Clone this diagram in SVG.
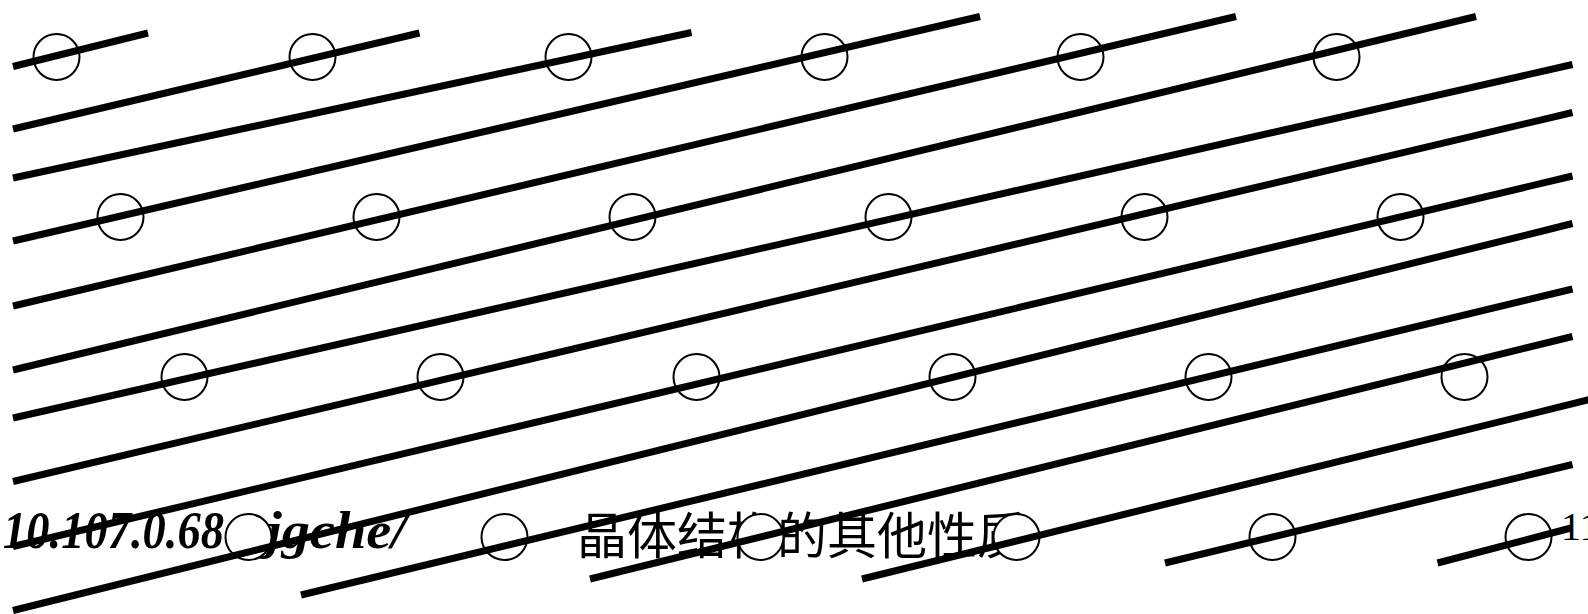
<svg xmlns="http://www.w3.org/2000/svg" width="1588" height="614" viewBox="0 0 1588 614">
<style>
.c{fill:#fff;stroke:#000;stroke-width:2}
.l{stroke:#000;stroke-width:7;stroke-linecap:butt}
.t1{font-family:"Liberation Serif",serif;font-weight:bold;font-style:italic;font-size:53px}
.t2{font-family:"Liberation Sans","Noto Sans CJK SC",sans-serif;font-size:50px}
.t3{font-family:"Liberation Serif",serif;font-size:40px}
</style>
<rect width="1588" height="614" fill="#fff"/>
<g id="texts">
<text id="url" class="t1" x="3" y="548"><tspan textLength="221" lengthAdjust="spacingAndGlyphs">10.107.0.68</tspan><tspan x="266" textLength="141" lengthAdjust="spacingAndGlyphs">jgche/</tspan></text>
<text id="title" class="t2" x="577" y="554">晶体结构的其他性质</text>
<text id="page" class="t3" x="1561" y="540">11</text>
</g>
<g id="circles">
<circle class="c" cx="56.5" cy="57" r="23"/>
<circle class="c" cx="312.5" cy="57" r="23"/>
<circle class="c" cx="568.5" cy="57" r="23"/>
<circle class="c" cx="824.5" cy="57" r="23"/>
<circle class="c" cx="1080.5" cy="57" r="23"/>
<circle class="c" cx="1336.5" cy="57" r="23"/>
<circle class="c" cx="120.5" cy="217" r="23"/>
<circle class="c" cx="376.5" cy="217" r="23"/>
<circle class="c" cx="632.5" cy="217" r="23"/>
<circle class="c" cx="888.5" cy="217" r="23"/>
<circle class="c" cx="1144.5" cy="217" r="23"/>
<circle class="c" cx="1400.5" cy="217" r="23"/>
<circle class="c" cx="184.5" cy="377" r="23"/>
<circle class="c" cx="440.5" cy="377" r="23"/>
<circle class="c" cx="696.5" cy="377" r="23"/>
<circle class="c" cx="952.5" cy="377" r="23"/>
<circle class="c" cx="1208.5" cy="377" r="23"/>
<circle class="c" cx="1464.5" cy="377" r="23"/>
<circle class="c" cx="248.5" cy="537" r="23"/>
<circle class="c" cx="504.5" cy="537" r="23"/>
<circle class="c" cx="760.5" cy="537" r="23"/>
<circle class="c" cx="1016.5" cy="537" r="23"/>
<circle class="c" cx="1272.5" cy="537" r="23"/>
<circle class="c" cx="1528.5" cy="537" r="23"/>
</g>
<g id="lines">
<line class="l" x1="13" y1="66.5" x2="148" y2="33"/>
<line class="l" x1="13" y1="129" x2="419.5" y2="33"/>
<line class="l" x1="13" y1="178" x2="691.5" y2="32.5"/>
<line class="l" x1="13" y1="241" x2="980" y2="16.5"/>
<line class="l" x1="13" y1="306" x2="1236" y2="16.5"/>
<line class="l" x1="13" y1="370" x2="1476" y2="16.5"/>
<line class="l" x1="13" y1="418" x2="1572.5" y2="64.5"/>
<line class="l" x1="13" y1="481.5" x2="1572.5" y2="112.5"/>
<line class="l" x1="13" y1="546.5" x2="1572.5" y2="176"/>
<line class="l" x1="13" y1="610.5" x2="1572.5" y2="223.5"/>
<line class="l" x1="301" y1="595" x2="1572.5" y2="289"/>
<line class="l" x1="590" y1="579" x2="1572.5" y2="336.5"/>
<line class="l" x1="862" y1="579" x2="1600" y2="397"/>
<line class="l" x1="1165" y1="563" x2="1572.5" y2="464.5"/>
<line class="l" x1="1437.5" y1="563" x2="1571" y2="528"/>
</g>
</svg>
